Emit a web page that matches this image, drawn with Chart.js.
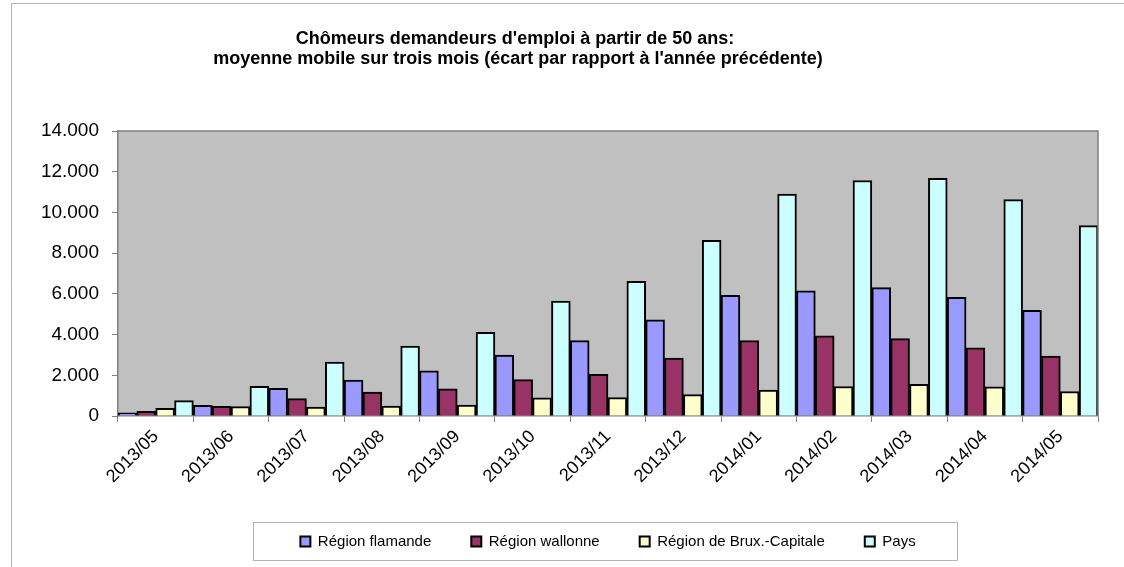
<!DOCTYPE html>
<html>

<head>
    <title>Chômeurs 50 ans et plus</title>
    <script src="https://cdn.jsdelivr.net/npm/chart.js@4"></script>

    <style type="text/css">
        html,
        body {
            margin: 0;
            background-color: #ffffff;
        }
    </style>
</head>

<body>
    <canvas id="chartChomage" width="1124" height="567"></canvas>

    <script>
        // values
        var months = ["2013/05", "2013/06", "2013/07", "2013/08", "2013/09", "2013/10", "2013/11",
            "2013/12", "2014/01", "2014/02", "2014/03", "2014/04", "2014/05"];
        var flamande = [150, 520, 1360, 1760, 2220, 2990, 3700, 4720, 5930, 6150, 6310, 5830, 5190];
        var wallonne = [230, 480, 850, 1180, 1330, 1790, 2050, 2840, 3700, 3940, 3800, 3350, 2940];
        var bruxelles = [380, 460, 440, 490, 540, 890, 900, 1050, 1270, 1450, 1560, 1430, 1200];
        var pays = [755, 1460, 2650, 3430, 4110, 5650, 6620, 8630, 10900, 11570, 11680, 10630, 9350];

        var titleLines = ["Chômeurs demandeurs d'emploi à partir de 50 ans:",
            "moyenne mobile sur trois mois (écart par rapport à l'année précédente)"];

        const fontName = "'Liberation Sans', Arial, sans-serif";

        function Thousands(v) {
            return v.toString().replace(/\B(?=(\d{3})+(?!\d))/g, ".");
        }

        // background, outer frame, plot area fill
        var backPlugin = {
            id: "backPlugin",
            beforeDraw: function(chart) {
                let ctx = chart.ctx;
                let a = chart.chartArea;
                ctx.save();
                ctx.fillStyle = "#ffffff";
                ctx.fillRect(0, 0, chart.width, chart.height);
                ctx.strokeStyle = "#b4b4b4";
                ctx.lineWidth = 1;
                ctx.beginPath();
                ctx.moveTo(11.5, chart.height);
                ctx.lineTo(11.5, 3.5);
                ctx.lineTo(chart.width, 3.5);
                ctx.stroke();
                ctx.fillStyle = "#c0c0c0";
                ctx.fillRect(a.left, a.top, a.right - a.left, a.bottom - a.top);
                ctx.restore();
            },
            afterDraw: function(chart) {
                let ctx = chart.ctx;
                let a = chart.chartArea;
                ctx.save();
                // top and right edge of the plot area
                ctx.strokeStyle = "#808080";
                ctx.lineWidth = 1.5;
                ctx.beginPath();
                ctx.moveTo(a.left, a.top);
                ctx.lineTo(a.right, a.top);
                ctx.lineTo(a.right, a.bottom);
                ctx.stroke();

                // title
                ctx.fillStyle = "#000000";
                ctx.font = "bold 18px " + fontName;
                ctx.textAlign = "center";
                ctx.textBaseline = "alphabetic";
                ctx.fillText(titleLines[0], 515, 44);
                ctx.fillText(titleLines[1], 518, 64);

                // frame around the legend
                let boxes = chart.legend.legendHitBoxes;
                if (boxes && boxes.length) {
                    let first = boxes[0];
                    let last = boxes[boxes.length - 1];
                    let mid = first.top + first.height / 2;
                    let left = first.left - 47;
                    let right = last.left + last.width + 42;
                    let top = mid - 20;
                    let bottom = mid + 18;
                    ctx.strokeStyle = "#b4b4b4";
                    ctx.lineWidth = 1;
                    ctx.strokeRect(Math.round(left) + 0.5, Math.round(top) + 0.5,
                        Math.round(right - left), Math.round(bottom - top));
                }
                ctx.restore();
            }
        };

        function MakeSet(label, values, color) {
            return {
                label: label,
                data: values,
                backgroundColor: color,
                borderColor: "#000000",
                borderWidth: 2,
                categoryPercentage: 1.0,
                barPercentage: 1.0
            };
        }

        let ctx = document.getElementById("chartChomage").getContext("2d");

        var chomageChart = new Chart(ctx, {
            type: "bar",
            data: {
                labels: months,
                datasets: [
                    MakeSet("Région flamande", flamande, "#9999ff"),
                    MakeSet("Région wallonne", wallonne, "#993366"),
                    MakeSet("Région de Brux.-Capitale", bruxelles, "#ffffcc"),
                    MakeSet("Pays", pays, "#ccffff")
                ]
            },
            options: {
                responsive: false,
                animation: false,
                layout: {
                    padding: { left: 11, right: 26, top: 131, bottom: 8 }
                },
                plugins: {
                    title: { display: false },
                    tooltip: { enabled: false },
                    legend: {
                        position: "bottom",
                        fullSize: false,
                        labels: {
                            boxWidth: 10,
                            boxHeight: 10,
                            padding: 40,
                            color: "#000000",
                            font: { family: fontName, size: 15 }
                        }
                    }
                },
                scales: {
                    x: {
                        grid: {
                            offset: true,
                            drawOnChartArea: false,
                            drawTicks: true,
                            tickLength: 6,
                            color: "#808080"
                        },
                        border: { color: "#808080", width: 1.5 },
                        ticks: {
                            minRotation: 45,
                            maxRotation: 45,
                            padding: 4,
                            color: "#000000",
                            font: { family: fontName, size: 18 }
                        },
                        afterFit: function(s) {
                            s.height = 78;
                        }
                    },
                    y: {
                        min: 0,
                        max: 14000,
                        grid: {
                            drawOnChartArea: false,
                            drawTicks: true,
                            tickLength: 6,
                            color: "#808080"
                        },
                        border: { color: "#808080", width: 1.5 },
                        ticks: {
                            stepSize: 2000,
                            padding: 13,
                            color: "#000000",
                            font: { family: fontName, size: 19 },
                            callback: function(v) {
                                return Thousands(v);
                            }
                        },
                        afterFit: function(s) {
                            s.width = 107;
                        }
                    }
                }
            },
            plugins: [backPlugin]
        });
    </script>
</body>

</html>
